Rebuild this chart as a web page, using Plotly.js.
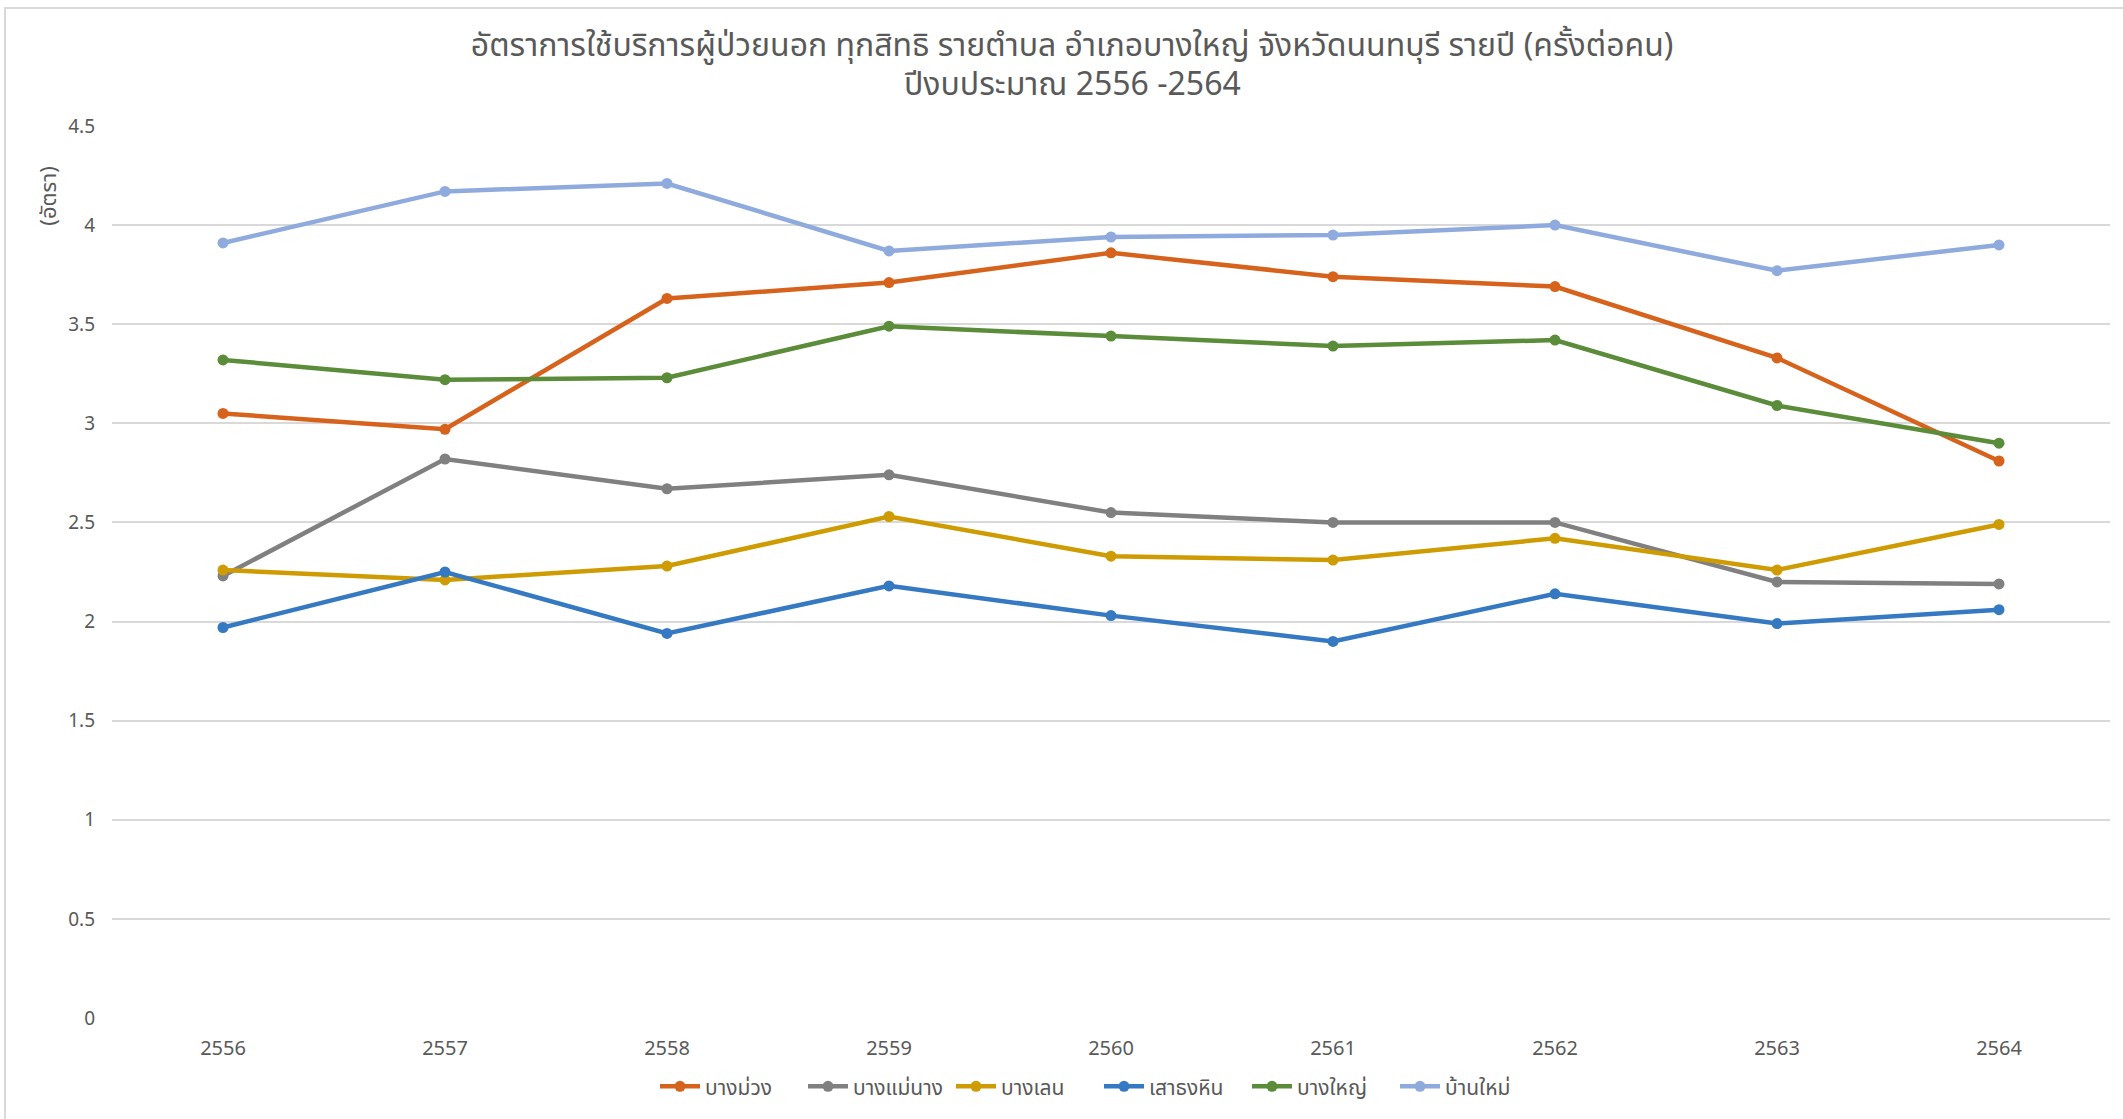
<!DOCTYPE html>
<html>
<head>
<meta charset="utf-8">
<script src="https://cdn.plot.ly/plotly-3.0.1.min.js"></script>
<style>
html,body{margin:0;padding:0;background:#fff;}
#wrap{position:relative;width:2123px;height:1119px;overflow:hidden;}
#chart{width:2123px;height:1119px;}
#frame{position:absolute;left:4px;top:7px;width:2140px;height:1130px;border:2px solid #D9D9D9;pointer-events:none;}
</style>
</head>
<body>
<div id="wrap"><div id="chart"></div><div id="frame"></div></div>
<script>
const years = ['2556','2557','2558','2559','2560','2561','2562','2563','2564'];
const bangMuang   = [3.05, 2.97, 3.63, 3.71, 3.86, 3.74, 3.69, 3.33, 2.81];
const bangMaeNang = [2.23, 2.82, 2.67, 2.74, 2.55, 2.50, 2.50, 2.20, 2.19];
const bangLen     = [2.26, 2.21, 2.28, 2.53, 2.33, 2.31, 2.42, 2.26, 2.49];
const saoThongHin = [1.97, 2.25, 1.94, 2.18, 2.03, 1.90, 2.14, 1.99, 2.06];
const bangYai     = [3.32, 3.22, 3.23, 3.49, 3.44, 3.39, 3.42, 3.09, 2.90];
const banMai      = [3.91, 4.17, 4.21, 3.87, 3.94, 3.95, 4.00, 3.77, 3.90];

const seriesNames = ['บางม่วง','บางแม่นาง','บางเลน','เสาธงหิน','บางใหญ่','บ้านใหม่'];
const seriesData = [bangMuang, bangMaeNang, bangLen, saoThongHin, bangYai, banMai];
const seriesColors = ['#D6621C','#808080','#CF9B02','#3579C2','#5A8C3A','#8FAADC'];
const titleLine1 = 'อัตราการใช้บริการผู้ป่วยนอก ทุกสิทธิ รายตำบล อำเภอบางใหญ่ จังหวัดนนทบุรี รายปี (ครั้งต่อคน)';
const titleLine2 = 'ปีงบประมาณ 2556 -2564';

const FONT = '"Noto Sans Thai", "Noto Sans", "Open Sans", sans-serif';
const traces = seriesNames.map((n,i)=>({
  type:'scatter', mode:'lines+markers', name:n, x:years, y:seriesData[i],
  line:{color:seriesColors[i], width:4.5},
  marker:{color:seriesColors[i], size:11}
}));

const layout = {
  width:2123, height:1119,
  margin:{l:112, r:13, t:126, b:99},
  paper_bgcolor:'#fff', plot_bgcolor:'#fff',
  font:{family:FONT, color:'#595959', size:20},
  title:{text:titleLine1,
         font:{family:FONT, size:32, color:'#595959'}, x:0.505, xref:'container', y:0.96, yref:'container', yanchor:'middle'},
  xaxis:{type:'category', showgrid:false, zeroline:false, showline:false, ticks:'', ticklabelstandoff:16,
         tickfont:{size:20, color:'#595959'}, range:[-0.5, 8.5]},
  yaxis:{range:[0,4.5], dtick:0.5, tick0:0, showgrid:true, gridcolor:'#D9D9D9', gridwidth:2, zeroline:false,
         showline:false, ticks:'', ticklabelstandoff:16, tickfont:{size:19, color:'#595959'}},
  showlegend:true,
  legend:{orientation:'h', x:0.494, xanchor:'center', y:-0.077, yanchor:'middle', font:{size:21, color:'#595959'},
          itemwidth:40, tracegroupgap:0, entrywidth:93, entrywidthmode:'pixels'},
  annotations:[
    {text:titleLine2, xref:'paper', yref:'paper', x:0.4806, y:1.046, showarrow:false,
     font:{size:32, color:'#595959', family:FONT}, xanchor:'center', yanchor:'middle'},
    {text:'(อัตรา)', xref:'paper', yref:'paper', x:-0.031, y:0.922, textangle:-90, showarrow:false,
     font:{size:22, color:'#595959', family:FONT}, xanchor:'center', yanchor:'middle'}]
};
Plotly.newPlot('chart', traces, layout, {displayModeBar:false, staticPlot:true});
</script>
</body>
</html>
